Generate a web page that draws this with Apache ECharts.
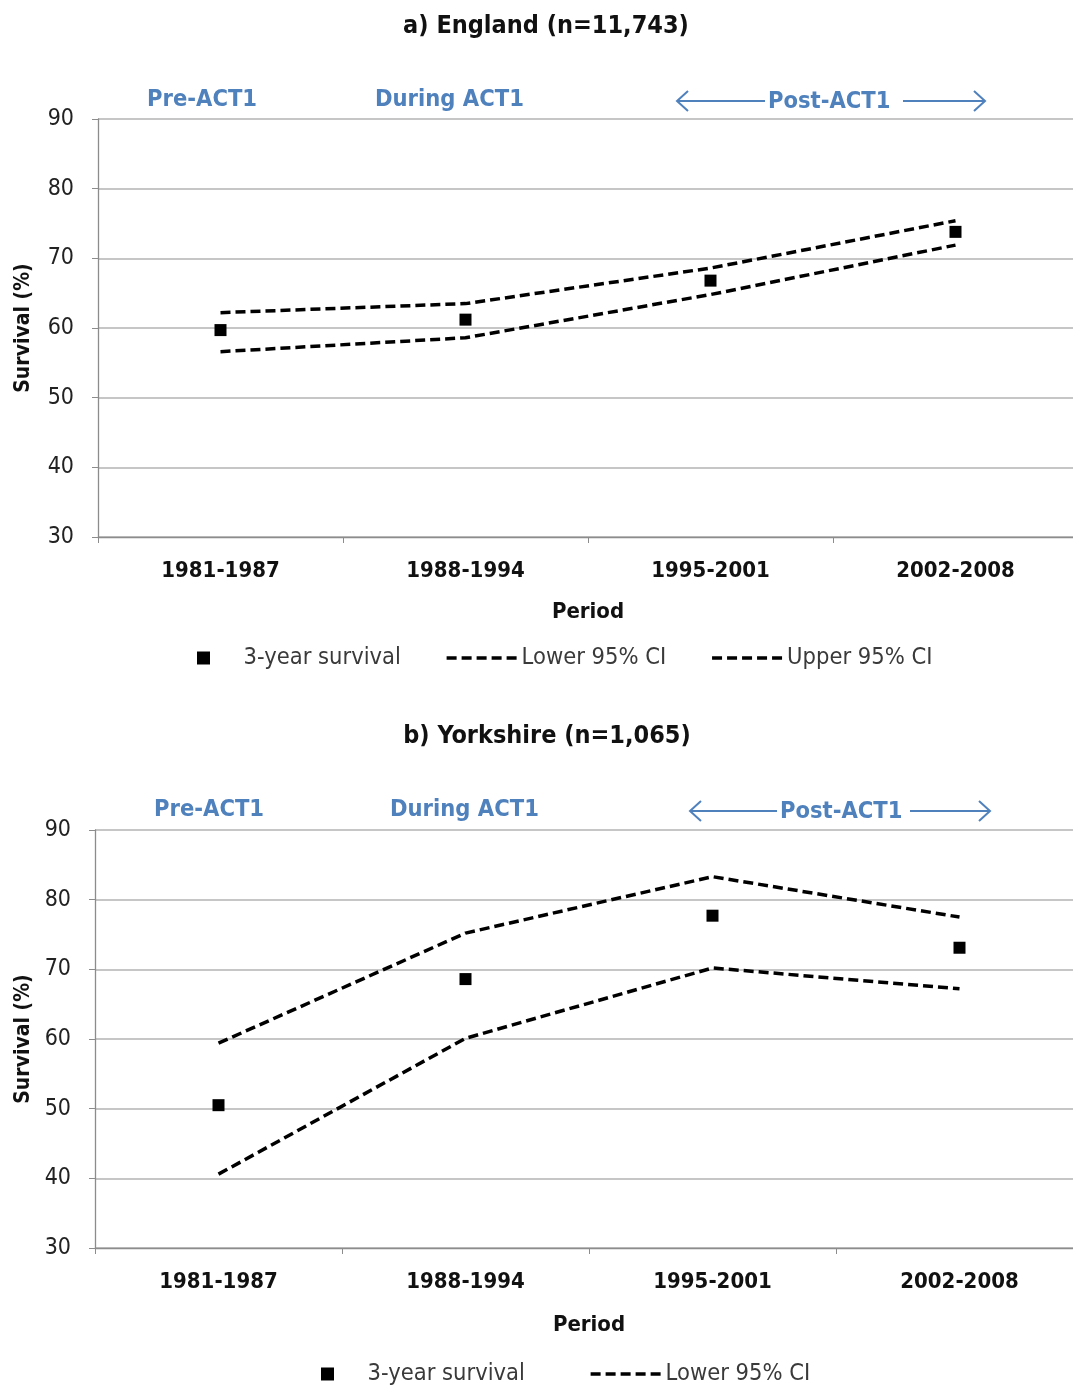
<!DOCTYPE html>
<html><head><meta charset="utf-8">
<script src="https://cdn.jsdelivr.net/npm/echarts@6/dist/echarts.min.js"></script>
<style>html,body{margin:0;padding:0;background:#fff}#c{width:1073px;height:1387px}</style>
</head><body><div id="c"></div>
<script>
const periods = ['1981-1987','1988-1994','1995-2001','2002-2008'];
const yTicks = [30,40,50,60,70,80,90];
const engSurvival = [59.7, 61.2, 66.8, 73.8];
const engLower = [56.6, 58.6, 64.8, 71.9];
const engUpper = [62.2, 63.5, 68.6, 75.4];
const yorSurvival = [50.5, 68.6, 77.7, 73.1];
const yorLower = [40.6, 60.1, 70.2, 67.2];
const yorUpper = [59.4, 75.2, 83.3, 77.5];
const titles = ['a) England (n=11,743)', 'b) Yorkshire (n=1,065)'];
const phaseLabels = ['Pre-ACT1', 'During ACT1', 'Post-ACT1'];

const FONT = '"DejaVu Sans Condensed","Open Sans",sans-serif';
const BLUE = '#4f81bd';
const dashStyle = {color:'#000', width:3.5, type:[10,5]};
const sq = 'path://M0,0L10,0L10,10L0,10Z';

function xAxis(gi, gap){
  return {type:'category', gridIndex:gi, data:periods, boundaryGap:true,
    axisLine:{lineStyle:{color:'#8c8c8c', width:1.3}},
    axisTick:{show:true, length:6, lineStyle:{color:'#8c8c8c'}},
    axisLabel:{color:'#111', fontFamily:FONT, fontSize:22, fontWeight:'bold', margin:23},
    name:'Period', nameLocation:'middle', nameGap:gap,
    nameTextStyle:{color:'#111', fontFamily:FONT, fontSize:22, fontWeight:'bold'}};
}
function yAxis(gi, gap){
  return {type:'value', gridIndex:gi, min:yTicks[0], max:yTicks[yTicks.length-1], interval:10,
    axisLine:{show:true, lineStyle:{color:'#8c8c8c', width:1.3}},
    axisTick:{show:true, length:6, lineStyle:{color:'#8c8c8c'}},
    splitLine:{lineStyle:{color:'#b3b3b3', width:1.5}},
    axisLabel:{color:'#222', fontFamily:FONT, fontSize:23, margin:24},
    name:'Survival (%)', nameLocation:'middle', nameGap:gap, nameRotate:90,
    nameTextStyle:{color:'#111', fontFamily:FONT, fontSize:21, fontWeight:'bold'}};
}
function seriesFor(gi, surv, lo, up){
  return [
    {name:'3-year survival', type:'scatter', xAxisIndex:gi, yAxisIndex:gi, data:surv,
      symbol:'rect', symbolSize:12, itemStyle:{color:'#000', opacity:1}, z:5},
    {name:'Lower 95% CI', type:'line', xAxisIndex:gi, yAxisIndex:gi, data:lo,
      symbol:'none', lineStyle:dashStyle, itemStyle:{color:'#000'}},
    {name:'Upper 95% CI', type:'line', xAxisIndex:gi, yAxisIndex:gi, data:up,
      symbol:'none', lineStyle:dashStyle, itemStyle:{color:'#000'}}
  ];
}
function phaseGraphics(y, pre, during, post){
  const ts = {fill:BLUE, font:'bold 23.5px '+FONT};
  const ls = {stroke:BLUE, lineWidth:2};
  return [
    {type:'text', left:pre, top:y-13, style:Object.assign({text:phaseLabels[0]}, ts)},
    {type:'text', left:during, top:y-13, style:Object.assign({text:phaseLabels[1]}, ts)},
    {type:'text', left:post[1]+3, top:y-11, style:Object.assign({text:phaseLabels[2]}, ts)},
    {type:'line', shape:{x1:post[0], y1:y, x2:post[1], y2:y}, style:ls},
    {type:'polyline', shape:{points:[[post[0]+11,y-10],[post[0],y],[post[0]+11,y+10]]}, style:Object.assign({fill:null}, ls)},
    {type:'line', shape:{x1:post[2], y1:y, x2:post[3], y2:y}, style:ls},
    {type:'polyline', shape:{points:[[post[3]-11,y-10],[post[3],y],[post[3]-11,y+10]]}, style:Object.assign({fill:null}, ls)}
  ];
}
const legendText = {color:'#3a3a3a', fontFamily:FONT, fontSize:23.5};
const legLine = {width:3.5, type:[10,5], color:'#000'};
const hiddenSym = {opacity:0};
const option = {
  animation:false,
  backgroundColor:'#fff',
  title:[
    {text:titles[0], left:541, top:9, textAlign:'center', textStyle:{fontFamily:FONT, fontSize:25, fontWeight:'bold', color:'#111'}},
    {text:titles[1], left:542, top:719, textAlign:'center', textStyle:{fontFamily:FONT, fontSize:25, fontWeight:'bold', color:'#111'}}
  ],
  grid:[
    {left:98, top:119, width:980, height:418, outerBoundsMode:'none', containLabel:false},
    {left:95, top:830, width:988, height:418, outerBoundsMode:'none', containLabel:false}
  ],
  xAxis:[xAxis(0, 64), xAxis(1, 66)],
  yAxis:[yAxis(0, 64), yAxis(1, 61)],
  legend:[
    {left:192, top:641, itemWidth:70, itemHeight:13, itemGap:44, textStyle:legendText, lineStyle:legLine,
      data:[{name:'3-year survival', icon:sq},{name:'Lower 95% CI', itemStyle:hiddenSym},{name:'Upper 95% CI', itemStyle:hiddenSym}]},
    {left:316, top:1357, itemWidth:70, itemHeight:13, itemGap:64, textStyle:legendText, lineStyle:legLine,
      data:[{name:'3-year survival', icon:sq},{name:'Lower 95% CI', itemStyle:hiddenSym}]}
  ],
  series:[].concat(seriesFor(0, engSurvival, engLower, engUpper), seriesFor(1, yorSurvival, yorLower, yorUpper)),
  graphic: phaseGraphics(101, 147, 375, [677,765,903,985]).concat(phaseGraphics(811, 154, 390, [690,777,910,990]))
};
const chart = echarts.init(document.getElementById('c'));
chart.setOption(option);
</script></body></html>
